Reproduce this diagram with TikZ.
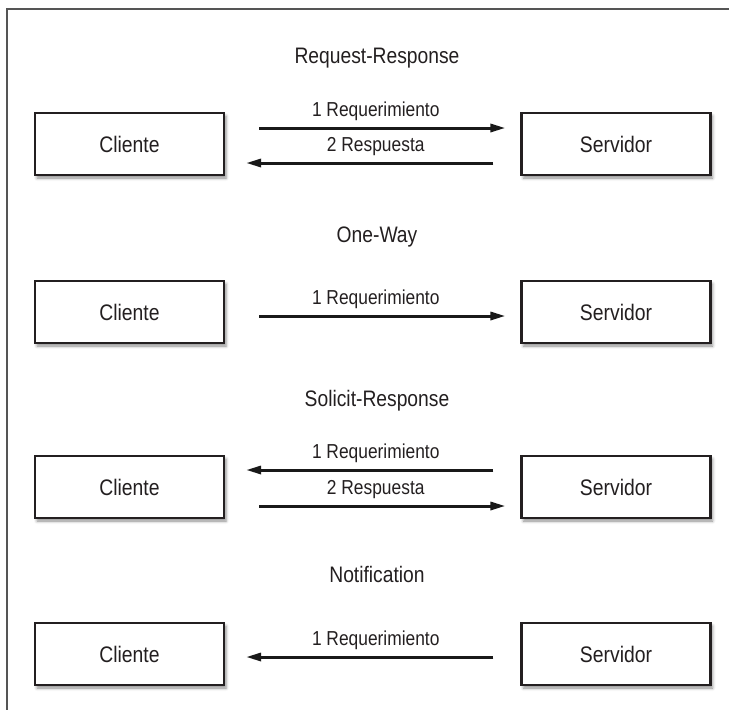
\documentclass[tikz,border=0pt]{standalone}
\usepackage{fontspec}
\setmainfont{Liberation Sans}[FakeStretch = 0.86]
\usepackage{tikz}
\usetikzlibrary{arrows.meta}
\usetikzlibrary{shadows.blur}
\usepackage{xcolor}

\definecolor{inkgray}{HTML}{231F20}
\definecolor{framegray}{HTML}{555555}

\tikzset{
    party/.style = {draw = inkgray, line width = 2.1pt, fill = white, text = inkgray,
        minimum width = 189pt, minimum height = 62pt, inner sep = 0pt,
        font = \fontsize{22.5}{26}\selectfont,
        blur shadow = {shadow xshift = 2pt, shadow yshift = -3pt, shadow blur radius = 3pt, shadow opacity = 45}},
    msg/.style = {line width = 3pt, draw = black!90, -{Triangle[length = 15pt, width = 8pt]}},
    msglabel/.style = {anchor = base, xshift = 3pt, yshift = 12pt, inner sep = 0pt, text = inkgray,
        font = \fontsize{20.2}{23}\selectfont},
    mepname/.style = {text = inkgray, font = \fontsize{22.4}{26}\selectfont}
}

\begin{document}
\begin{tikzpicture}[x = 1pt, y = -1pt]
    \useasboundingbox (0,0) rectangle (729,710);
    \draw[framegray, line width = 1.3pt] (7,710) -- (7,9) -- (729,9);

    % request-response
    \node[mepname] (t1) at (377,58) {Request-Response};
    \node[party] (c1) at (129.5,144) {Cliente};
    \node[party] (s1) at (616,144) {Servidor};
    \draw[msg, shorten < = 34pt, shorten > = 15pt] ([yshift = 16pt]c1.east) -- ([yshift = 16pt]s1.west)
        node[msglabel, midway] (m1a) {1 Requerimiento};
    \draw[msg, shorten < = 27pt, shorten > = 21pt] ([yshift = -19pt]s1.west) -- ([yshift = -19pt]c1.east)
        node[msglabel, midway] (m1b) {2 Respuesta};

    % one-way
    \node[mepname] (t2) at (377,237) {One-Way};
    \node[party] (c2) at (129.5,312) {Cliente};
    \node[party] (s2) at (616,312) {Servidor};
    \draw[msg, shorten < = 34pt, shorten > = 15pt] ([yshift = -4pt]c2.east) -- ([yshift = -4pt]s2.west)
        node[msglabel, midway] (m2a) {1 Requerimiento};

    % solicit-response
    \node[mepname] (t3) at (377,401) {Solicit-Response};
    \node[party] (c3) at (129.5,487) {Cliente};
    \node[party] (s3) at (616,487) {Servidor};
    \draw[msg, shorten < = 27pt, shorten > = 21pt] ([yshift = 17pt]s3.west) -- ([yshift = 17pt]c3.east)
        node[msglabel, midway] (m3a) {1 Requerimiento};
    \draw[msg, shorten < = 34pt, shorten > = 15pt] ([yshift = -19pt]c3.east) -- ([yshift = -19pt]s3.west)
        node[msglabel, midway] (m3b) {2 Respuesta};

    % notification
    \node[mepname] (t4) at (377,574) {Notification};
    \node[party] (c4) at (129.5,654) {Cliente};
    \node[party] (s4) at (616,654) {Servidor};
    \draw[msg, shorten < = 27pt, shorten > = 21pt] ([yshift = -3pt]s4.west) -- ([yshift = -3pt]c4.east)
        node[msglabel, midway] (m4a) {1 Requerimiento};
\end{tikzpicture}
\end{document}
